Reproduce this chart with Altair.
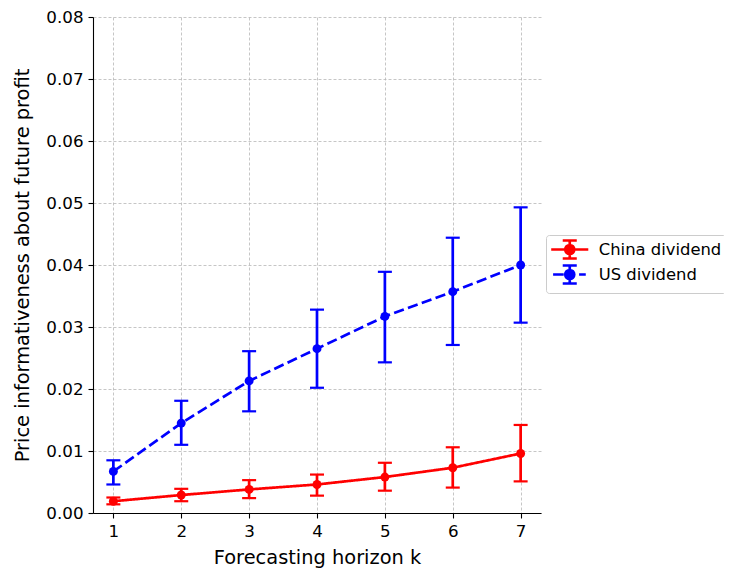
import altair as alt
import pandas as pd

# ---- data ----
horizons = [1, 2, 3, 4, 5, 6, 7]
series_names = ["China dividend", "US dividend"]

china_mean = [0.0019, 0.0029, 0.0038, 0.0046, 0.0058, 0.0073, 0.0096]
china_hi = [0.0025, 0.0039, 0.0053, 0.0062, 0.0081, 0.0106, 0.0142]
china_lo = [0.0014, 0.0019, 0.0024, 0.0028, 0.0036, 0.0041, 0.0051]

us_mean = [0.0067, 0.0145, 0.0213, 0.0265, 0.0317, 0.0357, 0.0400]
us_hi = [0.0085, 0.0181, 0.0261, 0.0328, 0.0389, 0.0444, 0.0493]
us_lo = [0.0046, 0.0110, 0.0164, 0.0202, 0.0243, 0.0271, 0.0307]

y_ticks = [0.0, 0.01, 0.02, 0.03, 0.04, 0.05, 0.06, 0.07, 0.08]

colors = ["#ff0000", "#0000ff"]
dashes = [[1, 0], [10.3, 4.4]]

rows = []
for name, m, lo, hi in [
    (series_names[0], china_mean, china_lo, china_hi),
    (series_names[1], us_mean, us_lo, us_hi),
]:
    for k, a, b, c in zip(horizons, m, lo, hi):
        rows.append({"k": k, "series": name, "mean": a, "lo": b, "hi": c})
df = pd.DataFrame(rows)

FONT = "DejaVu Sans"

x_enc = alt.X(
    "k:Q",
    scale=alt.Scale(domain=[0.7, 7.3], nice=False, zero=False),
    axis=alt.Axis(values=horizons, format="d", title="Forecasting horizon k"),
)
y_scale = alt.Scale(domain=[0, 0.08], nice=False, zero=True)
y_axis = alt.Axis(values=y_ticks, format=".2f", title="Price informativeness about future profit")

base = alt.Chart(df)

layers = []
for name, col, dash in zip(series_names, colors, dashes):
    sub = base.transform_filter(alt.datum.series == name)
    layers.append(sub.mark_rule(color=col, strokeWidth=2.7).encode(
        x=x_enc, y=alt.Y("lo:Q", scale=y_scale, axis=y_axis), y2="hi:Q"))
    layers.append(sub.mark_tick(color=col, orient="horizontal", size=14, thickness=2.2, opacity=1).encode(
        x=x_enc, y=alt.Y("hi:Q", scale=y_scale)))
    layers.append(sub.mark_tick(color=col, orient="horizontal", size=14, thickness=2.2, opacity=1).encode(
        x=x_enc, y=alt.Y("lo:Q", scale=y_scale)))
    layers.append(sub.mark_line(color=col, strokeWidth=2.7, strokeDash=dash).encode(
        x=x_enc, y=alt.Y("mean:Q", scale=y_scale)))
    layers.append(sub.mark_circle(color=col, size=80, opacity=1).encode(
        x=x_enc, y=alt.Y("mean:Q", scale=y_scale)))

# legend-only layer (no rows drawn), symbols shaped like errorbar handles
china_sym = ("M-2.06,0H2.06M0,-1V1M-0.78,-1H0.78M-0.78,1H0.78"
             "M0.5,0A0.5,0.5,0,1,1,-0.5,0A0.5,0.5,0,1,1,0.5,0Z")
us_sym = ("M-1.85,0H-0.67M1.04,0H1.78M0,-1V1M-0.78,-1H0.78M-0.78,1H0.78"
          "M0.5,0A0.5,0.5,0,1,1,-0.5,0A0.5,0.5,0,1,1,0.5,0Z")

legend_def = alt.Legend(
    title=None,
    orient="none",
    legendX=453,
    legendY=218,
    padding=4,
    rowPadding=-6,
    symbolSize=324,
    symbolStrokeWidth=2.7,
    symbolOffset=9.25,
    labelOffset=18.5,
    labelFontSize=16.4,
    labelFont=FONT,
    labelColor="#000000",
    strokeColor="#cccccc",
    fillColor="#ffffff",
    cornerRadius=3,
)
legend_layer = base.transform_filter("false").mark_point(
    filled=True, size=324, strokeWidth=2.7, opacity=1
).encode(
    fill=alt.Fill("series:N", scale=alt.Scale(domain=series_names, range=colors), legend=legend_def),
    stroke=alt.Stroke("series:N", scale=alt.Scale(domain=series_names, range=colors), legend=legend_def),
    shape=alt.Shape("series:N", scale=alt.Scale(domain=series_names, range=[china_sym, us_sym]), legend=legend_def),
)
layers.append(legend_layer)

chart = alt.layer(*layers).properties(
    width=448,
    height=496,
    autosize=alt.AutoSizeParams(type="none"),
    padding={"left": 85, "top": 9, "right": 183, "bottom": 57},
).configure_view(stroke=None).configure_axis(
    labelFont=FONT,
    titleFont=FONT,
    labelFontSize=16.7,
    titleFontSize=19.4,
    titleFontWeight="normal",
    labelColor="#000000",
    titleColor="#000000",
    domainColor="#000000",
    domainWidth=1.1,
    tickColor="#000000",
    tickWidth=1.1,
    tickSize=5,
    labelPadding=5,
    grid=True,
    gridColor="#b8b8b8",
    gridDash=[3, 2],
    gridWidth=0.8,
).configure_axisX(titlePadding=9).configure_axisY(titlePadding=13)

chart.save("out.html", embed_options={"renderer": "svg", "actions": False})
